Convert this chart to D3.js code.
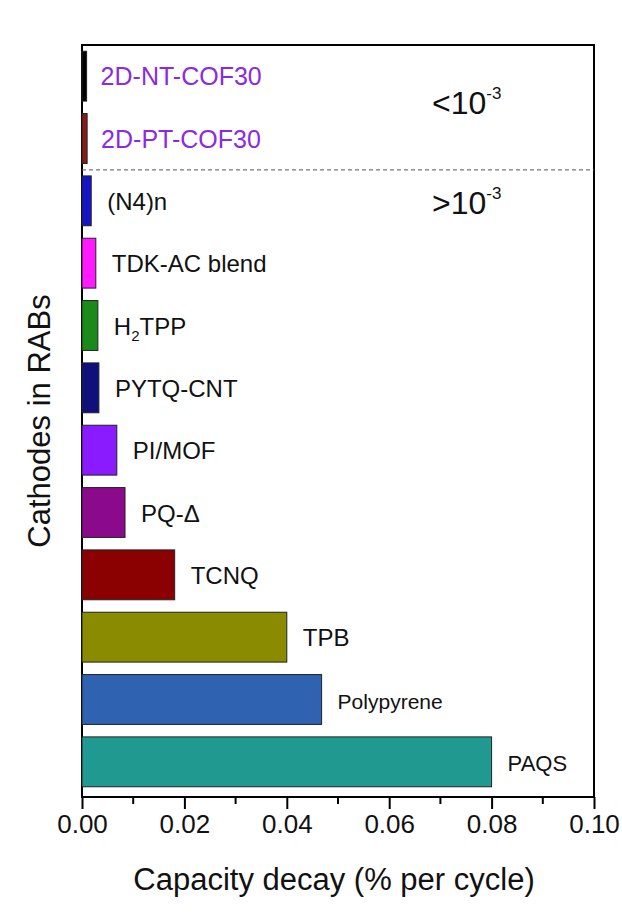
<!DOCTYPE html>
<html><head><meta charset="utf-8">
<script src="https://cdn.jsdelivr.net/npm/d3@7"></script>
<style>body{margin:0;background:#fff}text{font-family:Arial,"Liberation Sans",sans-serif}</style>
</head><body>
<svg id="c" width="622" height="914"></svg>
<script>
const categories=["2D-NT-COF30","2D-PT-COF30","(N4)n","TDK-AC blend","H2TPP","PYTQ-CNT","PI/MOF","PQ-Δ","TCNQ","TPB","Polypyrene","PAQS"];
const values=[0.0009,0.001,0.0018,0.0027,0.0031,0.0033,0.0068,0.0084,0.0181,0.040,0.0468,0.080];
const colors=["#000000","#8b1a1a","#1515c8","#ff1aff","#1a8a1a","#10107a","#8a1aff","#8b0a8b","#8b0000","#8b8b00","#2f62b0","#209a90"];
const ticks=[0,0.02,0.04,0.06,0.08,0.10];
const labelSize=[25,25,24,24,24,24,24,24,24,24,21,22];
const svg=d3.select("#c");
const L=82,R=594,T=45,B=797;
const x=d3.scaleLinear().domain([0,0.1]).range([L,R]);
const y=d3.scaleBand().domain(categories).range([T,B-4]).paddingInner(0.2).paddingOuter(0.1);
svg.append("rect").attr("x",L).attr("y",T).attr("width",R-L).attr("height",B-T).attr("fill","none").attr("stroke","#000").attr("stroke-width",2);
svg.selectAll(".bar").data(categories).join("rect")
 .attr("x",x(0)).attr("y",d=>y(d)).attr("width",(d,i)=>x(values[i])-x(0)).attr("height",y.bandwidth())
 .attr("fill",(d,i)=>colors[i]).attr("stroke","#222").attr("stroke-width",1);
svg.selectAll(".lab").data(categories).join("text")
 .attr("x",(d,i)=>x(values[i])+(i<2?14:16)).attr("y",d=>y(d)+y.bandwidth()/2+9)
 .attr("font-size",(d,i)=>labelSize[i]).attr("fill",(d,i)=>i<2?"#8a2be2":"#111")
 .each(function(d){const t=d3.select(this);
   if(d==="H2TPP"){t.append("tspan").text("H");t.append("tspan").attr("font-size",15).attr("dy",6).text("2");t.append("tspan").attr("dy",-6).text("TPP");}
   else t.text(d);});
svg.append("line").attr("x1",L).attr("x2",R).attr("y1",y(categories[2])-6).attr("y2",y(categories[2])-6).attr("stroke","#555").attr("stroke-dasharray","4,3");
function lim(sym,yy){const t=svg.append("text").attr("x",432).attr("y",yy).attr("font-size",32).attr("fill","#111");
 t.append("tspan").text(sym+"10");t.append("tspan").attr("font-size",17).attr("dy",-15).text("-3");}
lim("<",114);lim(">",214);
const ax=d3.axisBottom(x).tickValues(ticks).tickFormat(d3.format(".2f")).tickSize(12).tickPadding(6);
const g=svg.append("g").attr("transform",`translate(0,${B})`).call(ax);
g.select(".domain").remove();
g.selectAll("line").attr("stroke-width",2);
g.selectAll("text").attr("font-size",26).attr("fill","#111");
svg.append("g").attr("transform",`translate(0,${B})`).selectAll("line").data(d3.range(0.01,0.1,0.02)).join("line")
 .attr("x1",d=>x(d)).attr("x2",d=>x(d)).attr("y1",0).attr("y2",7).attr("stroke","#000").attr("stroke-width",2);
svg.append("text").attr("x",(L+R)/2-4).attr("y",890).attr("text-anchor","middle").attr("font-size",31).attr("fill","#111").text("Capacity decay (% per cycle)");
svg.append("text").attr("transform",`translate(50,${(T+B)/2}) rotate(-90)`).attr("text-anchor","middle").attr("font-size",31).attr("fill","#111").text("Cathodes in RABs");
</script></body></html>
